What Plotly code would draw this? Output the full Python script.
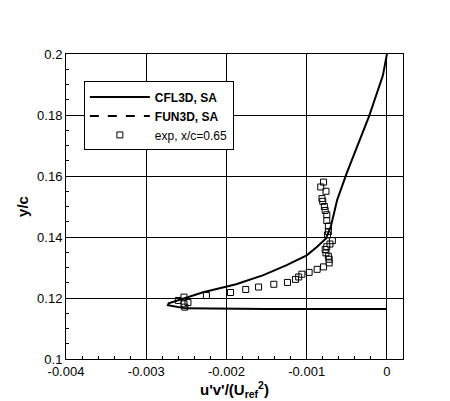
import plotly.graph_objects as go

# CFL3D, SA profile
cfl_x = [0.0, -0.00005, -0.00022, -0.00037, -0.0005, -0.00062, -0.00070, -0.00076, -0.00087,
         -0.0010, -0.00125, -0.00154, -0.00188, -0.00229, -0.00249, -0.00272, -0.00273,
         -0.00262, -0.00251, -0.0015, -0.0005, -0.00005, 0.0]
cfl_y = [0.2, 0.193, 0.1798, 0.1698, 0.161, 0.1522, 0.1434, 0.1395, 0.1368,
         0.134, 0.1308, 0.1275, 0.1245, 0.1219, 0.1203, 0.1183, 0.1176,
         0.117, 0.1166, 0.1164, 0.1163, 0.1162, 0.1164]

# experiment, x/c=0.65
exp_x = [-0.00079, -0.000825, -0.00076, -0.00081, -0.00080, -0.00078, -0.00077, -0.00075,
         -0.00075, -0.00073, -0.00073, -0.00074, -0.00068, -0.00071, -0.00075, -0.00077,
         -0.00076, -0.00073, -0.00072, -0.00072, -0.00079, -0.00087, -0.00097, -0.00106,
         -0.00110, -0.00114, -0.00124, -0.00141, -0.00160, -0.00176, -0.00195, -0.00225,
         -0.00253, -0.00260, -0.00248, -0.00253, -0.00252]
exp_y = [0.1580, 0.1564, 0.1550, 0.1526, 0.1517, 0.1500, 0.1487, 0.1473,
         0.1454, 0.1436, 0.1418, 0.1407, 0.1388, 0.1377, 0.1368, 0.1359,
         0.1348, 0.1337, 0.1327, 0.1315, 0.1302, 0.1294, 0.1284, 0.1278,
         0.1269, 0.1261, 0.1251, 0.1245, 0.1236, 0.1228, 0.1218, 0.1208,
         0.1203, 0.1192, 0.1185, 0.1181, 0.1170]

x_ticks = [-0.004, -0.003, -0.002, -0.001, 0]
x_labels = ["-0.004", "-0.003", "-0.002", "-0.001", "0"]
y_ticks = [0.1, 0.12, 0.14, 0.16, 0.18, 0.2]
y_labels = ["0.1", "0.12", "0.14", "0.16", "0.18", "0.2"]

FONT = "Liberation Sans, Arial"

fig = go.Figure()
fig.add_trace(go.Scatter(x=cfl_x, y=cfl_y, mode="lines", name="<b>CFL3D, SA</b>",
                         line=dict(color="black", width=2)))
fig.add_trace(go.Scatter(x=[None], y=[None], mode="lines", name="<b>FUN3D, SA</b>",
                         line=dict(color="black", width=2, dash="dash")))
fig.add_trace(go.Scatter(x=exp_x, y=exp_y, mode="markers", name="exp, x/c=0.65",
                         marker=dict(symbol="square-open", size=6, color="black",
                                     line=dict(width=1))))

axis_common = dict(showline=True, mirror=True, linecolor="black", linewidth=1,
                   showgrid=True, gridcolor="black", gridwidth=1, zeroline=False,
                   ticks="inside", ticklen=6, tickcolor="black",
                   tickfont=dict(family=FONT, size=13, color="black"))

fig.update_xaxes(range=[-0.004, 0.0002], tickvals=x_ticks, ticktext=x_labels,
                 minor=dict(ticks="inside", ticklen=3, dtick=0.0002, tickcolor="black"),
                 title=dict(text="<b>u'v'/(U<sub>ref</sub><sup>2</sup>)</b>",
                            font=dict(family=FONT, size=15, color="black"),
                            standoff=2),
                 **axis_common)
fig.update_yaxes(range=[0.1, 0.2], tickvals=y_ticks, ticktext=y_labels,
                 minor=dict(ticks="inside", ticklen=3, dtick=0.005, tickcolor="black"),
                 title=dict(text="<b>y/c</b>",
                            font=dict(family=FONT, size=15, color="black"),
                            standoff=4),
                 **axis_common)

fig.update_layout(
    width=450, height=401,
    margin=dict(l=58, r=55, t=46, b=50),
    paper_bgcolor="white", plot_bgcolor="white",
    legend=dict(x=0.053, y=0.91, xanchor="left", yanchor="top",
                bgcolor="white", bordercolor="black", borderwidth=1,
                font=dict(family=FONT, size=12, color="black"),
                tracegroupgap=0, itemwidth=60),
)

fig.write_html("out.html")
